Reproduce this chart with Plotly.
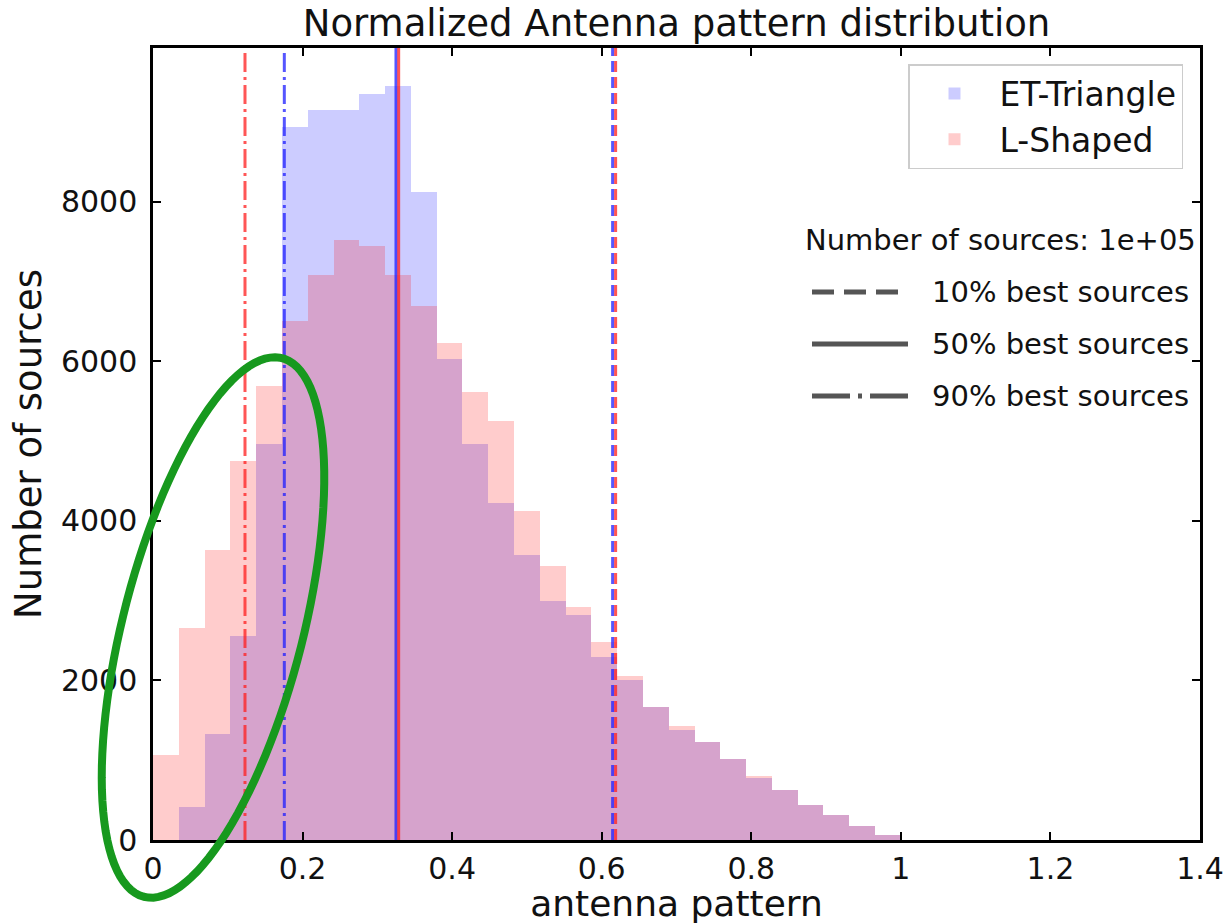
import numpy as np
import plotly.graph_objects as go

# ---------------- data ----------------
bin_lo, bin_hi, n_bins = 0.0, 1.0, 29
et_triangle_counts = [0, 412, 1325, 2560, 4960, 8934, 9152, 9152, 9353, 9457,
                      8126, 6028, 4965, 4231, 3574, 3000, 2817, 2296, 2008, 1673,
                      1380, 1225, 1015, 781, 626, 437, 308, 173, 69]
l_shaped_counts = [1065, 2660, 3633, 4751, 5693, 6505, 7079, 7523, 7447, 7079,
                   6700, 6237, 5618, 5249, 4123, 3440, 2921, 2477, 2058, 1673,
                   1430, 1225, 1015, 806, 626, 437, 308, 173, 69]
# percentile markers (antenna pattern value of the 10/50/90 % best sources)
et_p10, et_p50, et_p90 = 0.6146, 0.3249, 0.1756
l_p10, l_p50, l_p90 = 0.6186, 0.3285, 0.123
x_tick_vals = [0, 0.2, 0.4, 0.6, 0.8, 1.0, 1.2, 1.4]
x_tick_text = ["0", "0.2", "0.4", "0.6", "0.8", "1", "1.2", "1.4"]
y_tick_vals = [0, 2000, 4000, 6000, 8000]
y_tick_text = ["0", "2000", "4000", "6000", "8000"]
style_labels = ["10% best sources", "50% best sources", "90% best sources"]
n_sources_label = "Number of sources: 1e+05"

# ---------------- layout constants ----------------
FIG_W, FIG_H = 1227, 924
L, T, R, B = 153, 48, 1200, 840
PW, PH = R - L, B - T
FONT = "DejaVu Sans"
TXT = "#111111"

def pxx(px):
    return (px - L) / PW

def pxy(py):
    return (B - py) / PH

edges = np.linspace(bin_lo, bin_hi, n_bins + 1)
centers = 0.5 * (edges[:-1] + edges[1:])
width = edges[1] - edges[0]

fig = go.Figure()
fig.add_trace(go.Bar(x=centers, y=et_triangle_counts, width=width,
                     marker=dict(color="rgba(0,0,255,0.2)", line=dict(width=0)),
                     name="ET-Triangle"))
fig.add_trace(go.Bar(x=centers, y=l_shaped_counts, width=width,
                     marker=dict(color="rgba(255,0,0,0.2)", line=dict(width=0)),
                     name="L-Shaped"))

blue_line = "rgba(30,30,255,0.75)"
red_line = "rgba(255,30,30,0.75)"
DASH = "11px,5px"
DASHDOT = "19px,5px,3px,5px"
for xv, col, dash in [(et_p90, blue_line, DASHDOT), (et_p50, blue_line, "solid"),
                      (et_p10, blue_line, DASH),
                      (l_p90, red_line, DASHDOT), (l_p50, red_line, "solid"),
                      (l_p10, red_line, DASH)]:
    fig.add_shape(type="line", xref="x", yref="y domain", x0=xv, x1=xv, y0=0, y1=1,
                  line=dict(color=col, width=3, dash=dash), layer="above")

ymax = max(max(et_triangle_counts), max(l_shaped_counts)) * 1.05

fig.update_layout(
    width=FIG_W, height=FIG_H,
    margin=dict(l=L, r=FIG_W - R, t=T, b=FIG_H - B, autoexpand=False),
    paper_bgcolor="white", plot_bgcolor="white",
    barmode="overlay", bargap=0,
    font=dict(family=FONT, size=30, color=TXT),
    title=dict(text="Normalized Antenna pattern distribution", x=pxx(676.5), xref="paper",
               xanchor="center", y=1 - 23 / FIG_H, yanchor="middle",
               font=dict(family=FONT, size=37, color=TXT)),
    showlegend=True,
    legend=dict(x=pxx(1183), y=pxy(64), xanchor="right", yanchor="top",
                bgcolor="white", bordercolor="#cccccc", borderwidth=1.5,
                font=dict(family=FONT, size=33, color=TXT),
                itemwidth=80, tracegroupgap=0),
)
fig.update_xaxes(range=[0, 1.4], tickvals=x_tick_vals, ticktext=x_tick_text,
                 ticks="inside", ticklen=8, tickwidth=1.5, tickcolor="black",
                 showline=True, linewidth=2.5, linecolor="black", mirror="ticks",
                 showgrid=False, zeroline=False,
                 tickfont=dict(family=FONT, size=30, color=TXT),
                 title=dict(text="antenna pattern", standoff=9,
                            font=dict(family=FONT, size=36, color=TXT)))
fig.update_yaxes(range=[0, ymax], tickvals=y_tick_vals, ticktext=y_tick_text,
                 ticks="inside", ticklen=8, tickwidth=1.5, tickcolor="black",
                 showline=True, linewidth=2.5, linecolor="black", mirror="ticks",
                 showgrid=False, zeroline=False, ticklabelstandoff=7,
                 tickfont=dict(family=FONT, size=30, color=TXT),
                 title=dict(text="Number of sources", standoff=8,
                            font=dict(family=FONT, size=37, color=TXT)))

# ---- line-style key ----
fig.add_annotation(x=pxx(1198), y=pxy(240), xref="paper", yref="paper",
                   text=n_sources_label, showarrow=False, xanchor="right", yanchor="middle",
                   font=dict(family=FONT, size=29, color=TXT))
key_dashes = ["22px,10px", "solid", "38px,8px,4px,8px"]
for i, (lab, dsh) in enumerate(zip(style_labels, key_dashes)):
    yc = 292 + 52 * i
    fig.add_shape(type="line", xref="paper", yref="paper", x0=pxx(812), x1=pxx(908),
                  y0=pxy(yc), y1=pxy(yc), line=dict(color="#555555", width=5, dash=dsh))
    fig.add_annotation(x=pxx(930), y=pxy(yc), xref="paper", yref="paper", text=lab,
                       showarrow=False, xanchor="left", yanchor="middle",
                       font=dict(family=FONT, size=29, color=TXT))

# ---- green hand-drawn ellipse highlight ----
cx, cy, a, b, phi = 213, 627.5, 278, 90, np.deg2rad(104.4)
tt = np.linspace(0, 2 * np.pi, 120)
ex = cx + a * np.cos(phi) * np.cos(tt) - b * np.sin(phi) * np.sin(tt)
ey = cy + a * np.sin(phi) * np.cos(tt) + b * np.cos(phi) * np.sin(tt)
path = "M " + " L ".join(f"{pxx(u):.5f},{pxy(v):.5f}" for u, v in zip(ex, ey)) + " Z"
fig.add_shape(type="path", xref="paper", yref="paper", path=path,
              line=dict(color="#17991e", width=8), layer="above")

fig.write_html("out.html")
